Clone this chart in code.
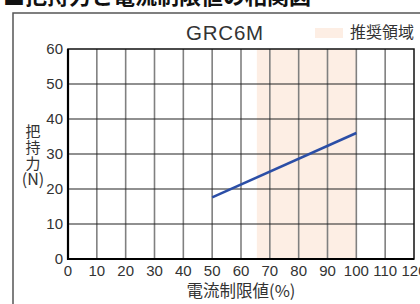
<!DOCTYPE html>
<html>
<head>
<meta charset="utf-8">
<script src="https://cdn.jsdelivr.net/npm/d3@7"></script>
<style>
  body { margin: 0; background: #fff; }
  text { fill: #333; }
  .num { font-family: "Liberation Sans", Arial, sans-serif; }
  .jp { font-family: "Noto Sans CJK JP", sans-serif; }
</style>
</head>
<body>
<div id="chart"></div>
<script>
/* Holding force vs current limit value, GRC6M */

const title = "■把持力と電流制限値の相関図";
const model = "GRC6M";
const legendLabel = "推奨領域";
const xLabel = "電流制限値(%)";
const yLabelChars = ["把", "持", "力", "(N)"];

const xTicks = [0, 10, 20, 30, 40, 50, 60, 70, 80, 90, 100, 110, 120];
const yTicks = [0, 10, 20, 30, 40, 50, 60];

const currentLimit = [50, 100];
const holdingForce = [17.6, 36];

const recommended = [65.5, 100];

const width = 420,
  height = 304,
  margin = { top: 49, right: 6, bottom: 45, left: 68 };

const svg = d3
  .select("#chart")
  .append("svg")
  .attr("width", width)
  .attr("height", height);

const x = d3
  .scaleLinear()
  .domain([0, 120])
  .range([margin.left, width - margin.right]);

const y = d3
  .scaleLinear()
  .domain([0, 60])
  .range([height - margin.bottom, margin.top]);

// page title, cut off at the top
svg
  .append("text")
  .attr("class", "jp")
  .attr("x", 3)
  .attr("y", 4)
  .style("font-size", "22px")
  .style("font-weight", "bold")
  .style("fill", "#111")
  .text(title);

// outer frame
svg
  .append("rect")
  .attr("x", 13)
  .attr("y", 13)
  .attr("width", 440)
  .attr("height", 340)
  .attr("fill", "none")
  .attr("stroke", "#555")
  .attr("stroke-width", 1.5);

svg
  .append("text")
  .attr("class", "num")
  .attr("x", 225)
  .attr("y", 40)
  .attr("text-anchor", "middle")
  .style("font-size", "20.5px")
  .style("letter-spacing", "0.8px")
  .text(model);

// legend
svg
  .append("rect")
  .attr("x", 315)
  .attr("y", 28)
  .attr("width", 28)
  .attr("height", 10)
  .attr("fill", "#fdeee4");

svg
  .append("text")
  .attr("class", "jp")
  .attr("x", 350)
  .attr("y", 38)
  .style("font-size", "16px")
  .text(legendLabel);

// recommended area
svg
  .append("rect")
  .attr("x", x(recommended[0]))
  .attr("y", y(60))
  .attr("width", x(recommended[1]) - x(recommended[0]))
  .attr("height", y(0) - y(60))
  .attr("fill", "#fdeee4");

// vertical grid
svg
  .append("g")
  .selectAll("line")
  .data(xTicks.slice(1, -1))
  .join("line")
  .attr("x1", (d) => x(d))
  .attr("x2", (d) => x(d))
  .attr("y1", y(60))
  .attr("y2", y(0))
  .attr("stroke", "#808080")
  .attr("stroke-width", 1.6);

// horizontal grid
svg
  .append("g")
  .selectAll("line")
  .data(yTicks.slice(1, -1))
  .join("line")
  .attr("x1", x(0))
  .attr("x2", x(120))
  .attr("y1", (d) => y(d))
  .attr("y2", (d) => y(d))
  .attr("stroke", "#222")
  .attr("stroke-width", 1.2);

// plot border
svg
  .append("rect")
  .attr("x", x(0))
  .attr("y", y(60))
  .attr("width", x(120) - x(0))
  .attr("height", y(0) - y(60))
  .attr("fill", "none")
  .attr("stroke", "#111")
  .attr("stroke-width", 1.5);

svg
  .append("path")
  .attr("d", `M${x(0)},${y(60)}V${y(0)}H${x(120)}`)
  .attr("fill", "none")
  .attr("stroke", "#000")
  .attr("stroke-width", 2.2);

// tick labels
svg
  .append("g")
  .selectAll("text")
  .data(yTicks)
  .join("text")
  .attr("class", "num")
  .attr("x", x(0) - 5)
  .attr("y", (d) => y(d))
  .attr("dy", "0.36em")
  .attr("text-anchor", "end")
  .style("font-size", "15px")
  .text((d) => d);

svg
  .append("g")
  .selectAll("text")
  .data(xTicks)
  .join("text")
  .attr("class", "num")
  .attr("x", (d) => x(d))
  .attr("y", 276)
  .attr("text-anchor", "middle")
  .style("font-size", "15px")
  .text((d) => d);

// axis labels
svg
  .append("text")
  .attr("class", "jp")
  .attr("x", 241)
  .attr("y", 297)
  .attr("text-anchor", "middle")
  .style("font-size", "16.5px")
  .text(xLabel);

// vertical y label, one character per row
svg
  .append("text")
  .attr("class", "jp")
  .attr("text-anchor", "middle")
  .style("font-size", "15px")
  .selectAll("tspan")
  .data(yLabelChars)
  .join("tspan")
  .attr("x", 33)
  .attr("y", (d, i) => 136.5 + i * 16)
  .style("font-size", (d) => (d.length > 1 ? "16px" : "15px"))
  .text((d) => d);

// holding force line
const line = d3
  .line()
  .x((d, i) => x(currentLimit[i]))
  .y((d) => y(d));

svg
  .append("path")
  .datum(holdingForce)
  .attr("d", line)
  .attr("fill", "none")
  .attr("stroke", "#2b4ea6")
  .attr("stroke-width", 2.5);
</script>
</body>
</html>
